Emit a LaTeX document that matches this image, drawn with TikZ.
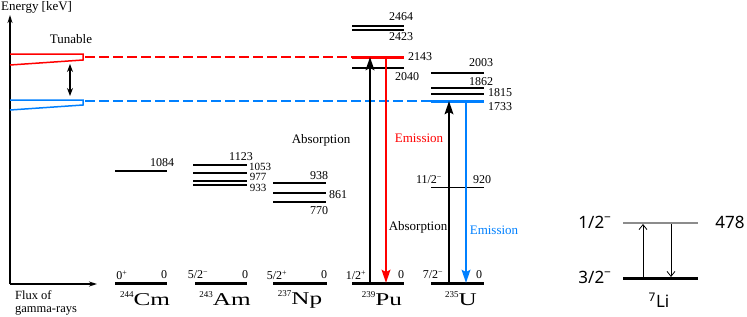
\documentclass[tikz,border=0pt]{standalone}
\usepackage{fontspec}
\setmainfont{Liberation Serif}
\newfontfamily\lifont{Noto Sans}
\usepackage{xcolor}
\definecolor{emit-red}{HTML}{FF0000}
\definecolor{emit-blue}{HTML}{0080FF}
\definecolor{level-gray}{HTML}{8C8C8C}
\usepackage{tikz}
\usetikzlibrary{
  arrows.meta
}
\newcommand{\nuclab}[2]{{\fontsize{9}{10}\selectfont\raisebox{8pt}{#1}}\scalebox{1.4}[1]{\fontsize{18}{19}\selectfont #2}}

\begin{document}
\begin{tikzpicture}[
    x=1pt, y=-1pt,
    axis/.style={
      -{Stealth[length=8pt,width=5pt]},
      line width=1.3pt
    },
    level/.style={line width=2pt},
    thinlevel/.style={line width=1pt},
    ground/.style={line width=3pt},
    tunebox/.style={line width=1.5pt},
    tuneline/.style={line width=1.3pt, dash pattern=on 10pt off 4pt},
    trans/.style={
      -{Stealth[length=13pt,width=8.5pt,inset=2pt]},
      line width=2.7pt
    },
    litrans/.style={
      -{Straight Barb[length=5pt,width=8pt]},
      line width=0.8pt
    },
    val/.style={font=\fontsize{12}{14}\selectfont, inner sep=0pt},
    tightval/.style={font=\fontsize{11}{12}\selectfont, inner sep=0pt, text height=7.5pt, text depth=0pt},
    spin/.style={font=\fontsize{12}{13}\selectfont, inner sep=0pt},
    word/.style={font=\fontsize{13}{15}\selectfont, inner sep=0pt},
    nucl/.style={inner sep=0pt},
    lival/.style={font=\lifont\fontsize{17}{19}\selectfont, inner sep=0pt}
  ]
    \useasboundingbox (0,0) rectangle (747,316);

    % ---- Axes ----
    \coordinate (origin) at (10,284);
    \coordinate (e-top)  at (10,15);
    \coordinate (f-end)  at (97,284);
    \draw[axis] (origin) -- (e-top);
    \draw[axis] (origin) -- (f-end);
    \node[word, anchor=west] (energy) at (1,7) {Energy [keV]};
    \node[word, anchor=north west, align=left, font=\fontsize{12.5}{13}\selectfont]
      (flux) at (15,290) {Flux of\\gamma-rays};

    % ---- Tunable boxes ----
    \draw[tunebox, emit-red]  (10,54) -- (83,54) -- (83,60) -- (10,65);
    \draw[tunebox, emit-blue] (10,100) -- (83,100) -- (83,105) -- (10,110);
    \node[word] (tunable) at (71,39) {Tunable};
    \coordinate (tune-lo) at (70,96);
    \coordinate (tune-hi) at (70,64);
    \draw[{Stealth[length=8pt,width=6pt]}-{Stealth[length=8pt,width=6pt]}, line width=1.3pt]
      (tune-lo) -- (tune-hi);

    % ---- Dashed tuning lines ----
    \coordinate (red-w)  at (85,57);
    \coordinate (pu-w)   at (352,57);
    \coordinate (blue-w) at (85,101);
    \coordinate (u-w)    at (431,101);
    \draw[tuneline, emit-red]  (red-w) -- (pu-w);
    \draw[tuneline, emit-blue] (blue-w) -- (u-w);

    % ---- 244Cm ----
    \draw[level]  (115,171) -- (167,171);
    \draw[ground] (115,283) -- (167,283);
    \node[val]  (cm-1084) at (162,163) {1084};
    \node[spin] (cm-spin) at (122,275) {0\textsuperscript{+}};
    \node[val]  (cm-zero) at (164,275) {0};
    \node[nucl] (cm) at (145,299) {\nuclab{244}{Cm}};

    % ---- 243Am ----
    \draw[level]  (193,165) -- (247,165);
    \draw[level]  (193,173) -- (247,173);
    \draw[level]  (193,180.7) -- (247,180.7);
    \draw[level]  (193,184.7) -- (247,184.7);
    \draw[ground] (195,283) -- (247,283);
    \node[val] (am-1123) at (241,157) {1123};
    \node[tightval] (am-1053) at (260,166.8) {1053};
    \node[tightval] (am-977)  at (258,177) {977};
    \node[tightval] (am-933)  at (258,187.8) {933};
    \node[spin] (am-spin) at (198,275) {5/2\textsuperscript{−}};
    \node[val]  (am-zero) at (245,275) {0};
    \node[nucl] (am) at (225,299) {\nuclab{243}{Am}};

    % ---- 237Np ----
    \draw[level]  (273,183.3) -- (326,183.3);
    \draw[level]  (273,192.7) -- (326,192.7);
    \draw[level]  (273,202) -- (326,202);
    \draw[ground] (273,283) -- (327,283);
    \node[val]  (np-938) at (319,176) {938};
    \node[val]  (np-861) at (338,195) {861};
    \node[val]  (np-770) at (319,211) {770};
    \node[spin] (np-spin) at (277,275) {5/2\textsuperscript{+}};
    \node[val]  (np-zero) at (324,275) {0};
    \node[nucl] (np) at (300,299) {\nuclab{237}{Np}};

    % ---- 239Pu ----
    \draw[level]  (352,25.5) -- (404,25.5);
    \draw[level]  (352,29.5) -- (404,29.5);
    \draw[ground, emit-red] (352,57) -- (404,57);
    \draw[level]  (352,68) -- (404,68);
    \draw[ground] (352,283) -- (404,283);
    \node[val]  (pu-2464) at (401,17) {2464};
    \node[val]  (pu-2423) at (401,37) {2423};
    \node[val]  (pu-2143) at (420,57) {2143};
    \node[val]  (pu-2040) at (407,77) {2040};
    \node[spin] (pu-spin) at (356,275) {1/2\textsuperscript{+}};
    \node[val]  (pu-zero) at (401,275) {0};
    \node[nucl] (pu) at (382,299) {\nuclab{239}{Pu}};

    % ---- 235U ----
    \draw[level]  (431,73) -- (484,73);
    \draw[level]  (431,88) -- (484,88);
    \draw[level]  (431,94) -- (484,94);
    \draw[ground, emit-blue] (431,101) -- (484,101);
    \draw[thinlevel] (431,187) -- (484,187);
    \draw[ground] (431,283) -- (484,283);
    \node[val]  (u-2003) at (481,63) {2003};
    \node[val]  (u-1862) at (481,82) {1862};
    \node[val]  (u-1815) at (500,93) {1815};
    \node[val]  (u-1733) at (500,107) {1733};
    \node[spin] (u-spin-920) at (429,180) {11/2\textsuperscript{−}};
    \node[val]  (u-920) at (482,180) {920};
    \node[spin] (u-spin) at (433,275) {7/2\textsuperscript{−}};
    \node[val]  (u-zero) at (479,275) {0};
    \node[nucl] (u) at (461,299) {\nuclab{235}{U}};

    % ---- Transitions ----
    \coordinate (pu-abs-lo) at (370,283);
    \coordinate (pu-abs-hi) at (370,57);
    \coordinate (pu-emi-hi) at (386,57);
    \coordinate (pu-emi-lo) at (386,283);
    \coordinate (u-abs-lo)  at (449,283);
    \coordinate (u-abs-hi)  at (449,101);
    \coordinate (u-emi-hi)  at (466,101);
    \coordinate (u-emi-lo)  at (466,283);
    \draw[trans] (pu-abs-lo) -- (pu-abs-hi);
    \draw[trans, emit-red] (pu-emi-hi) -- (pu-emi-lo);
    \draw[trans] (u-abs-lo) -- (u-abs-hi);
    \draw[trans, emit-blue] (u-emi-hi) -- (u-emi-lo);

    \node[word] (abs-pu) at (321,140) {Absorption};
    \node[word, emit-red] (emi-pu) at (419,138) {Emission};
    \node[word] (abs-u) at (418,227) {Absorption};
    \node[word, emit-blue] (emi-u) at (494,230) {Emission};

    % ---- 7Li ----
    \draw[line width=1.5pt, level-gray] (623,223) -- (698,223);
    \draw[ground] (623,278) -- (698,278);
    \coordinate (li-abs-lo) at (643,277);
    \coordinate (li-abs-hi) at (643,224);
    \coordinate (li-emi-hi) at (671,224);
    \coordinate (li-emi-lo) at (671,277);
    \draw[litrans] (li-abs-lo) -- (li-abs-hi);
    \draw[litrans] (li-emi-hi) -- (li-emi-lo);
    \node[lival] (li-spin-hi) at (595,222) {1/2\textsuperscript{−}};
    \node[lival] (li-spin-lo) at (595,277) {3/2\textsuperscript{−}};
    \node[lival] (li-478) at (730,222) {478};
    \node[lival] (li) at (659,300) {\textsuperscript{7}Li};
\end{tikzpicture}
\end{document}
